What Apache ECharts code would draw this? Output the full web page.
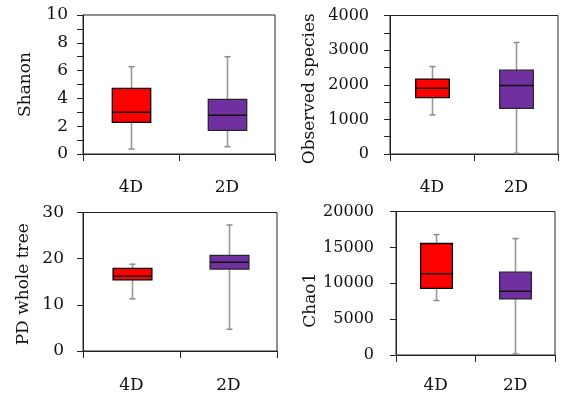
<!DOCTYPE html>
<html>
<head>
<meta charset="utf-8">
<script src="https://cdn.jsdelivr.net/npm/echarts@6/dist/echarts.min.js"></script>
<style>
html,body{margin:0;padding:0;background:#fff;}
#chart{width:561px;height:394px;}
</style>
</head>
<body>
<div id="chart"></div>
<script>
// Categories
var categories = ['4D', '2D'];
var boxColors = ['#FF0000', '#7030A0'];
var boxBorders = ['#000000', '#2b2233'];

// [min, Q1, median, Q3, max]
var shannon4D = [0.36, 2.28, 3.0, 4.72, 6.28];
var shannon2D = [0.53, 1.70, 2.78, 3.93, 7.0];
var observed4D = [1130, 1630, 1900, 2160, 2525];
var observed2D = [20, 1320, 1976, 2420, 3220];
var pd4D = [11.3, 15.4, 16.2, 17.9, 18.8];
var pd2D = [4.7, 17.75, 19.2, 20.7, 27.3];
var chao4D = [7590, 9290, 11310, 15540, 16780];
var chao2D = [140, 7820, 8870, 11540, 16230];

// Axis titles
var titles = ['Shanon', 'Observed species', 'PD whole tree', 'Chao1'];

var FONT = 'DejaVu Serif';
var AXIS_COLOR = '#222';

var panels = [
  {data: [shannon4D, shannon2D], min: 0, max: 10, interval: 2, minor: true,
   grid: {left: 83, top: 15, width: 192, height: 139}, labelSize: 17, labelMargin: 15, nameGap: 49, namePad: 0, catMargin: 25},
  {data: [observed4D, observed2D], min: 0, max: 4000, interval: 1000, minor: true,
   grid: {left: 390, top: 15.5, width: 168, height: 138.5}, labelSize: 16, labelMargin: 21, nameGap: 72, namePad: 8, catMargin: 25},
  {data: [pd4D, pd2D], min: 0, max: 30, interval: 10, minor: false,
   grid: {left: 83, top: 212.5, width: 194, height: 140}, labelSize: 17, labelMargin: 19, nameGap: 51, namePad: 5, catMargin: 26},
  {data: [chao4D, chao2D], min: 0, max: 20000, interval: 5000, minor: false,
   grid: {left: 396, top: 211.5, width: 159, height: 145}, labelSize: 16, labelMargin: 22, nameGap: 77, namePad: 34, catMargin: 22}
];

function renderBox(params, api) {
  var ci = api.value(0);
  var lo = api.coord([ci, api.value(1)]);
  var q1 = api.coord([ci, api.value(2)]);
  var med = api.coord([ci, api.value(3)]);
  var q3 = api.coord([ci, api.value(4)]);
  var hi = api.coord([ci, api.value(5)]);
  var bw = api.size([1, 0])[0] * 0.4;
  var cx = Math.round(lo[0]) + 0.5;
  var cap = 3;
  return {
    type: 'group',
    children: [
      {type: 'line', shape: {x1: cx, y1: hi[1], x2: cx, y2: lo[1]},
       style: {stroke: '#9a9a9a', lineWidth: 1.6}},
      {type: 'line', shape: {x1: cx - cap, y1: hi[1], x2: cx + cap, y2: hi[1]},
       style: {stroke: '#8a8a8a', lineWidth: 1.5}},
      {type: 'line', shape: {x1: cx - cap, y1: lo[1], x2: cx + cap, y2: lo[1]},
       style: {stroke: '#8a8a8a', lineWidth: 1.5}},
      {type: 'rect', shape: {x: cx - bw / 2, y: q3[1], width: bw, height: q1[1] - q3[1]},
       style: {fill: boxColors[ci], stroke: boxBorders[ci], lineWidth: 1.3}},
      {type: 'line', shape: {x1: cx - bw / 2, y1: med[1], x2: cx + bw / 2, y2: med[1]},
       style: {stroke: '#111', lineWidth: 1.5}}
    ]
  };
}

var option = {
  animation: false,
  backgroundColor: '#fff',
  grid: [], xAxis: [], yAxis: [], series: []
};

panels.forEach(function (p, i) {
  option.grid.push({left: p.grid.left, top: p.grid.top, width: p.grid.width, height: p.grid.height,
    show: true, borderColor: AXIS_COLOR, borderWidth: 1, backgroundColor: 'transparent', containLabel: false});
  option.xAxis.push({
    type: 'category', gridIndex: i, data: categories, boundaryGap: true,
    axisLine: {lineStyle: {color: AXIS_COLOR, width: 1}},
    axisTick: {show: true, length: 7, inside: false, alignWithLabel: false, lineStyle: {color: AXIS_COLOR}},
    axisLabel: {fontFamily: FONT, fontSize: 17, color: '#111', margin: p.catMargin},
    splitLine: {show: false}
  });
  option.yAxis.push({
    type: 'value', gridIndex: i, min: p.min, max: p.max, interval: p.interval,
    name: titles[i], nameLocation: 'middle', nameGap: p.nameGap,
    nameTextStyle: {fontFamily: FONT, fontSize: 17, color: '#111', padding: [0, p.namePad, 0, 0]},
    axisLine: {show: true, lineStyle: {color: AXIS_COLOR, width: 1}},
    axisTick: {show: true, length: 6, lineStyle: {color: AXIS_COLOR}},
    minorTick: {show: p.minor, splitNumber: 2, length: 6, lineStyle: {color: AXIS_COLOR}},
    axisLabel: {fontFamily: FONT, fontSize: p.labelSize, color: '#111', margin: p.labelMargin,
      formatter: function (v) { return String(v); }},
    splitLine: {show: false}
  });
  var items = p.data.map(function (d, ci) { return [ci].concat(d); });
  option.series.push({
    type: 'custom', xAxisIndex: i, yAxisIndex: i,
    renderItem: renderBox,
    encode: {x: 0, y: [1, 2, 3, 4, 5]},
    data: items
  });
});

var chart = echarts.init(document.getElementById('chart'), null, {renderer: 'canvas'});
chart.setOption(option);
</script>
</body>
</html>
